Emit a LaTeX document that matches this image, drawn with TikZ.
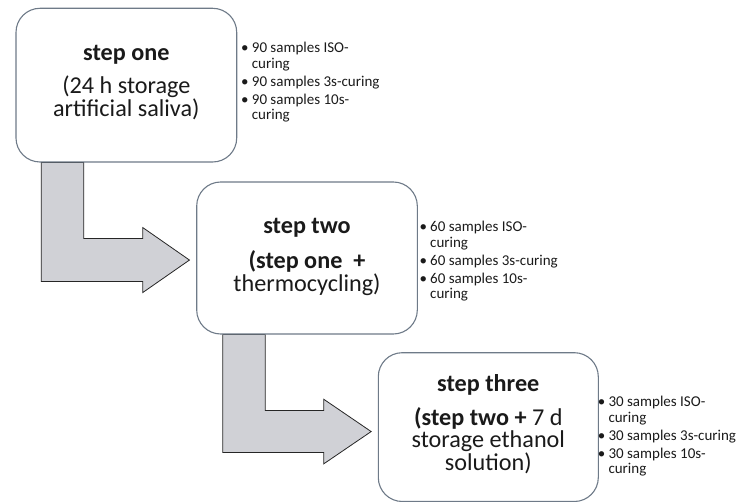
\documentclass[tikz,border=0pt]{standalone}
\usepackage{fontspec}
\setmainfont{Carlito}
\usetikzlibrary{calc,backgrounds}
\definecolor{boxline}{HTML}{6E7A88}
\definecolor{arrowfill}{HTML}{D0D1D6}
\definecolor{txt}{HTML}{1A1A1A}
\newcommand{\bul}[1]{\llap{•\hspace{3.2pt}}#1}
\begin{document}
\begin{tikzpicture}[x=1pt,y=-1pt,
  stagebox/.style={draw=boxline, line width=1.1pt, fill=white, rounded corners=24pt, inner sep=0pt},
  bendarrow/.style={draw=black!85, line width=0.8pt, fill=arrowfill, line join=miter},
  title/.style={font=\fontsize{24.2}{23}\selectfont\bfseries, text=txt, inner sep=0pt},
  body/.style={font=\fontsize{24.2}{22.7}\selectfont, text=txt, align=center, inner sep=0pt},
  bullets/.style={font=\fontsize{15}{15.5}\selectfont, text=txt, align=left, anchor=north west, inner sep=0pt}]
\useasboundingbox (0,0) rectangle (746,502);
% boxes
\node[stagebox, minimum width=220.7pt, minimum height=153.7pt] (b1) at (126.35,85.15) {};
\node[stagebox, minimum width=220.6pt, minimum height=152pt] (b2) at (307,258) {};
\node[stagebox, minimum width=220pt, minimum height=148.8pt] (b3) at (488.3,427.1) {};
% bent arrows behind the boxes
\begin{pgfonlayer}{background}
\draw[bendarrow] ($(b1.south west)+(25.7,0)$) -- ++(0,119) -- ++(101.6,0) -- ++(0,11)
  -- ++(46.7,-32.5) -- ++(-46.7,-32.5) -- ++(0,11) -- ++(-59,0) -- ++(0,-76) -- cycle;
\draw[bendarrow] ($(b2.south west)+(26.6,0)$) -- ++(0,118) -- ++(101,0) -- ++(0,11.3)
  -- ++(47.4,-32.3) -- ++(-47.4,-32.3) -- ++(0,11.3) -- ++(-58.6,0) -- ++(0,-76) -- cycle;
\end{pgfonlayer}
% box texts
\node[title] (t1) at (126.35,55) {step one};
\node[body] (d1) at (126.35,98) {(24 h storage\\artificial saliva)};
\node[title] (t2) at (307,228) {step two};
\node[body] (d2) at (307,273) {\textbf{(step one\ \ +}\\thermocycling)};
\node[title] (t3) at (488.3,385) {step three};
\node[body] (d3) at (488.3,440.5) {\textbf{(step two +} 7 d\\storage ethanol\\solution)};
% bullet lists
\node[bullets] (l1) at (251.7,42) {\bul{90 samples ISO-}\\curing\\[2.5pt]\bul{90 samples 3s-curing}\\[2.5pt]\bul{90 samples 10s-}\\curing};
\node[bullets] (l2) at (430,221) {\bul{60 samples ISO-}\\curing\\[2.5pt]\bul{60 samples 3s-curing}\\[2.5pt]\bul{60 samples 10s-}\\curing};
\node[bullets] (l3) at (608.3,396) {\bul{30 samples ISO-}\\curing\\[2.5pt]\bul{30 samples 3s-curing}\\[2.5pt]\bul{30 samples 10s-}\\curing};
\end{tikzpicture}
\end{document}
